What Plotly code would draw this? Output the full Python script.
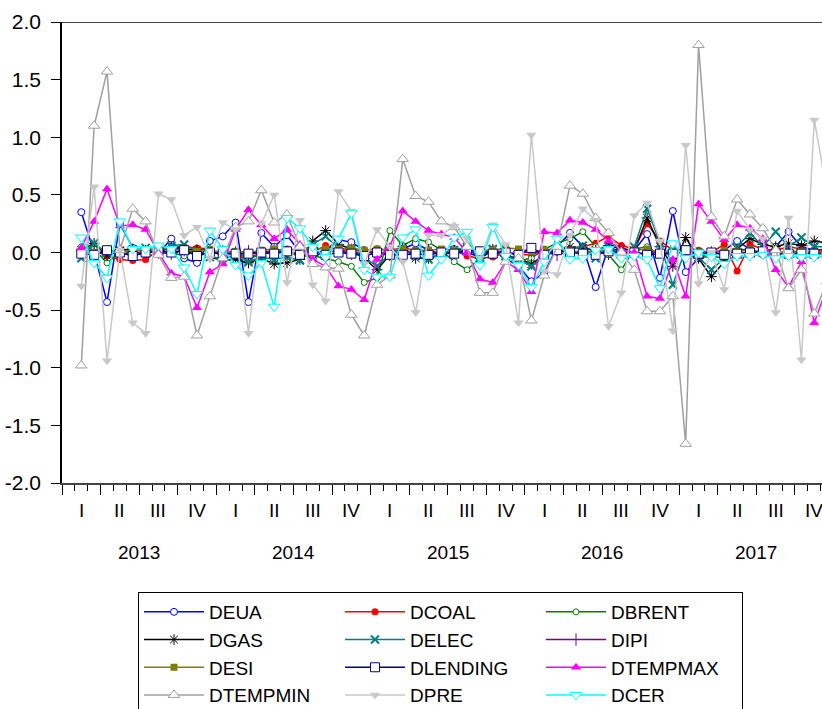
import plotly.graph_objects as go

# month positions: Feb 2013 .. Dec 2017 (month index from Jan 2013 = 0), plotted at month centres
month_index = list(range(1, 60))

DEUA = [0.35, 0.00, -0.43, 0.25, 0.04, 0.02, -0.01, 0.12, -0.05, -0.09,
        0.10, 0.14, 0.26, -0.43, 0.17, 0.05, 0.15, 0.00, -0.05, 0.02,
        0.11, 0.09, 0.02, -0.02, 0.00, 0.03, 0.08, 0.02, -0.02, 0.03,
        0.00, -0.04, 0.02, -0.05, -0.12, -0.25, -0.18, 0.05, 0.17, 0.05,
        -0.30, 0.05, 0.00, 0.02, 0.16, -0.22, 0.36, -0.17, -0.05, 0.00,
        0.02, 0.10, 0.03, -0.02, 0.05, 0.18, 0.05, 0.02, 0.03]
DCOAL = [0.00, 0.02, -0.03, -0.06, -0.07, -0.06, 0.02, 0.05, 0.05, 0.04,
         0.03, -0.04, -0.03, -0.05, 0.00, 0.02, 0.03, 0.02, 0.00, 0.06,
         0.02, 0.01, 0.02, 0.03, 0.02, 0.04, 0.02, 0.01, -0.02, 0.02,
         -0.03, -0.05, -0.04, 0.00, -0.02, -0.02, 0.02, 0.04, 0.03, 0.05,
         0.08, 0.14, 0.06, 0.03, 0.25, 0.10, 0.02, 0.03, 0.02, 0.00,
         0.07, -0.16, 0.07, 0.03, 0.02, 0.05, 0.03, 0.02, 0.02]
DBRENT = [0.05, 0.03, -0.09, 0.00, -0.02, 0.00, 0.02, 0.00, -0.03, 0.02,
          0.03, -0.02, 0.00, -0.05, -0.02, 0.02, 0.00, -0.03, -0.03, -0.05,
          -0.08, -0.12, -0.26, -0.22, 0.19, 0.06, 0.12, 0.09, 0.02, -0.08,
          -0.15, -0.05, 0.02, -0.03, -0.07, -0.05, 0.03, 0.08, 0.12, 0.18,
          0.05, -0.02, -0.15, 0.03, 0.05, -0.02, 0.03, -0.02, -0.05, -0.03,
          -0.05, 0.02, 0.03, -0.02, -0.03, 0.02, 0.00, 0.01, 0.00]
DGAS = [0.02, 0.08, -0.03, 0.02, 0.03, 0.02, 0.00, 0.05, 0.03, 0.02,
        -0.04, -0.07, -0.06, -0.09, -0.05, -0.10, -0.09, -0.06, 0.10, 0.19,
        0.07, 0.03, -0.05, -0.15, -0.02, 0.05, -0.05, -0.05, -0.02, 0.02,
        0.04, -0.05, 0.02, -0.03, -0.05, -0.10, -0.02, 0.02, 0.05, 0.04,
        0.02, 0.06, 0.03, 0.02, 0.30, 0.05, -0.12, 0.13, -0.05, -0.21,
        -0.08, 0.03, 0.12, 0.07, 0.05, 0.08, 0.06, 0.10, 0.08]
DELEC = [-0.05, 0.08, 0.00, 0.01, 0.02, 0.04, 0.02, 0.06, 0.07, 0.01,
         -0.04, -0.05, -0.03, -0.08, -0.04, -0.06, -0.04, -0.07, 0.07, 0.14,
         0.04, 0.02, -0.04, -0.12, -0.01, 0.03, -0.03, -0.06, 0.00, 0.02,
         0.05, -0.04, 0.03, -0.03, -0.06, -0.12, -0.03, 0.03, 0.02, 0.06,
         -0.05, 0.05, -0.02, 0.05, 0.38, 0.08, -0.28, 0.03, -0.04, -0.15,
         -0.05, 0.05, 0.17, 0.05, 0.18, 0.05, 0.13, 0.05, 0.05]
DIPI = [0.01, -0.01, 0.00, 0.02, -0.01, 0.01, 0.00, -0.01, 0.02, 0.00,
        -0.02, 0.01, 0.00, 0.01, -0.01, 0.02, 0.00, -0.01, 0.01, 0.00,
        0.02, -0.01, 0.00, 0.01, -0.02, 0.01, 0.00, 0.02, -0.01, 0.00,
        0.01, -0.01, 0.02, 0.00, -0.01, 0.01, 0.00, -0.02, 0.01, 0.00,
        0.01, -0.01, 0.02, 0.00, -0.01, 0.01, 0.00, 0.01, -0.02, 0.00,
        0.01, -0.01, 0.00, 0.02, -0.01, 0.00, 0.01, -0.01, 0.00]
DESI = [0.02, 0.00, 0.01, 0.02, 0.01, 0.02, 0.03, 0.03, 0.02, 0.01,
        0.02, 0.00, 0.01, 0.00, 0.02, 0.03, 0.01, 0.04, 0.04, 0.03,
        0.03, 0.04, 0.02, 0.03, 0.02, 0.03, 0.02, 0.02, 0.03, 0.02,
        0.00, 0.02, 0.02, 0.04, 0.03, 0.01, 0.02, 0.01, 0.02, 0.00,
        0.01, 0.02, -0.02, 0.02, 0.03, 0.00, 0.02, -0.01, 0.01, 0.00,
        0.02, 0.01, 0.02, 0.00, 0.01, 0.00, 0.01, 0.00, 0.01]
DLENDING = [-0.01, -0.02, 0.02, 0.00, -0.03, 0.00, 0.01, 0.00, 0.02, -0.03,
            0.00, -0.01, -0.01, -0.01, 0.00, -0.01, 0.01, -0.02, 0.01, -0.02,
            0.00, -0.01, -0.03, 0.00, -0.02, -0.02, -0.01, -0.02, 0.00, -0.01,
            0.02, 0.01, -0.01, 0.00, -0.02, 0.04, -0.02, 0.02, 0.00, -0.01,
            -0.02, 0.01, -0.01, 0.00, -0.02, -0.01, -0.01, 0.02, -0.01, 0.00,
            -0.02, -0.01, 0.00, 0.01, -0.01, -0.01, -0.01, -0.01, -0.01]
DTEMPMAX = [0.04, 0.27, 0.55, 0.23, 0.24, 0.20, 0.00, -0.18, -0.21, -0.48,
            -0.17, -0.10, 0.20, 0.37, 0.24, 0.12, 0.20, 0.07, -0.06, -0.12,
            -0.29, -0.32, -0.41, -0.06, 0.05, 0.36, 0.27, 0.19, 0.16, 0.13,
            0.00, -0.23, -0.26, -0.08, -0.15, -0.34, 0.18, 0.17, 0.28, 0.26,
            0.20, 0.10, 0.02, 0.00, -0.38, -0.40, -0.06, -0.38, 0.42, 0.27,
            0.11, 0.24, 0.21, 0.12, -0.15, -0.30, -0.08, -0.61, -0.30]
DTEMPMIN = [-0.98, 1.10, 1.57, 0.02, 0.38, 0.27, -0.02, -0.22, -0.21, -0.72,
            -0.38, -0.05, 0.22, 0.27, 0.54, 0.26, 0.33, 0.05, -0.10, -0.13,
            -0.14, -0.54, -0.72, -0.28, -0.20, 0.81, 0.49, 0.44, 0.27, 0.22,
            0.05, -0.35, -0.35, -0.08, -0.05, -0.59, -0.20, 0.05, 0.58, 0.51,
            0.30, 0.17, 0.00, -0.15, -0.51, -0.51, -0.38, -1.66, 1.80, 0.31,
            0.14, 0.46, 0.33, 0.21, 0.02, -0.31, -0.15, -0.53, -0.25]
DPRE = [-0.29, 0.57, -0.94, 0.02, -0.61, -0.70, 0.51, 0.46, 0.15, 0.22,
        -0.05, 0.26, 0.20, -0.70, 0.25, 0.50, -0.26, 0.28, -0.28, -0.42,
        0.53, 0.36, -0.10, 0.20, 0.05, -0.08, -0.52, 0.15, 0.15, 0.23,
        0.12, -0.05, 0.24, 0.07, -0.61, 1.02, -0.16, -0.19, 0.15, 0.38,
        0.28, -0.64, -0.35, 0.32, 0.43, 0.10, -0.68, 0.93, -0.27, 0.00,
        -0.32, 0.36, 0.20, 0.12, -0.52, 0.30, -0.93, 1.15, 0.52]
DCER = [0.13, -0.09, -0.22, 0.27, 0.03, 0.03, 0.06, 0.03, -0.13, -0.36,
        0.19, 0.03, -0.11, -0.20, -0.09, -0.47, 0.30, 0.21, 0.05, -0.04,
        0.12, 0.34, -0.15, -0.21, -0.21, 0.13, 0.20, -0.20, -0.06, 0.13,
        0.18, -0.11, 0.22, -0.03, -0.11, -0.30, -0.08, 0.12, -0.06, -0.05,
        0.02, 0.03, -0.05, -0.03, -0.06, -0.31, 0.08, -0.05, 0.00, -0.04,
        -0.10, -0.03, -0.03, -0.02, -0.05, -0.03, -0.04, -0.04, -0.03]

years = ["2013", "2014", "2015", "2016", "2017"]
quarters = ["I", "II", "III", "IV"]
y_ticks = [-2.0, -1.5, -1.0, -0.5, 0.0, 0.5, 1.0, 1.5, 2.0]

x = [m + 0.5 for m in month_index]

series = [
    ("DEUA", DEUA, "#0000FF", dict(symbol="circle", size=7, color="white", line=dict(color="#0000FF", width=1))),
    ("DCOAL", DCOAL, "#FF0000", dict(symbol="circle", size=7, color="#FF0000", line=dict(width=0))),
    ("DBRENT", DBRENT, "#008000", dict(symbol="circle", size=6, color="white", line=dict(color="#008000", width=1))),
    ("DGAS", DGAS, "#000000", dict(symbol="asterisk-open", size=9, color="#000000", line=dict(color="#000000", width=1))),
    ("DELEC", DELEC, "#008080", dict(symbol="x-thin-open", size=8, color="#008080", line=dict(color="#008080", width=2))),
    ("DIPI", DIPI, "#800080", dict(symbol="line-ns-open", size=9, color="#800080", line=dict(color="#800080", width=1))),
    ("DESI", DESI, "#808000", dict(symbol="square", size=7, color="#808000", line=dict(width=0))),
    ("DLENDING", DLENDING, "#000080", dict(symbol="square", size=9, color="white", line=dict(color="#000080", width=1))),
    ("DTEMPMAX", DTEMPMAX, "#FF00FF", dict(symbol="triangle-up", size=9, color="#FF00FF", line=dict(width=0))),
    ("DTEMPMIN", DTEMPMIN, "#A0A0A0", dict(symbol="triangle-up", size=10, color="white", line=dict(color="#A0A0A0", width=1))),
    ("DPRE", DPRE, "#C8C8C8", dict(symbol="triangle-down", size=9, color="#C8C8C8", line=dict(width=0))),
    ("DCER", DCER, "#00FFFF", dict(symbol="triangle-down", size=10, color="white", line=dict(color="#00FFFF", width=1))),
]

fig = go.Figure()
for name, vals, col, mk in series:
    fig.add_trace(go.Scatter(x=x, y=vals, name=name, mode="lines+markers",
                             line=dict(color=col, width=1.5), marker=mk))

FONT = "Liberation Sans, Arial, sans-serif"
annotations = []
for yi, yr in enumerate(years):
    for qi, q in enumerate(quarters):
        annotations.append(dict(x=yi * 12 + qi * 3 + 1.5, y=0, xref="x", yref="paper",
                                text=q, showarrow=False, yanchor="middle", yshift=-27,
                                font=dict(size=19, color="black", family=FONT)))
    annotations.append(dict(x=yi * 12 + 6, y=0, xref="x", yref="paper",
                            text=yr, showarrow=False, yanchor="middle", yshift=-69,
                            font=dict(size=19, color="black", family=FONT)))

fig.update_layout(
    width=822, height=709,
    margin=dict(l=62, r=0, t=22, b=226, autoexpand=False),
    paper_bgcolor="white", plot_bgcolor="white",
    font=dict(family=FONT, size=18, color="black"),
    showlegend=True,
    legend=dict(orientation="h", x=(138 - 62) / 760, xref="paper",
                y=(709 - 592) / 709, yref="container",
                xanchor="left", yanchor="top", bordercolor="black", borderwidth=1,
                bgcolor="white", font=dict(size=19, family=FONT, color="black"),
                itemwidth=60, entrywidth=126, entrywidthmode="pixels",
                traceorder="normal"),
    annotations=annotations,
    shapes=[dict(type="line", xref="paper", yref="y", x0=0, x1=1, y0=2, y1=2,
                 line=dict(color="black", width=1.5))],
)
fig.update_xaxes(range=[0, 59.1], showgrid=False, zeroline=False, showline=True,
                 automargin=False,
                 linecolor="#444444", linewidth=2, ticks="outside", ticklen=10,
                 tickcolor="black", tickmode="array",
                 tickvals=[q * 3 for q in range(20)], showticklabels=False,
                 minor=dict(tickmode="linear", tick0=0, dtick=1, ticks="outside",
                            ticklen=6, tickcolor="black", showgrid=False))
fig.update_yaxes(range=[-2, 2], showgrid=False, zeroline=False, showline=True,
                 automargin=False,
                 linecolor="black", linewidth=1.5, ticks="outside", ticklen=9,
                 tickcolor="black", tickmode="array", tickvals=y_ticks,
                 ticktext=[f"{v:.1f}" for v in y_ticks], ticklabelstandoff=6,
                 tickfont=dict(size=21, family=FONT, color="black"))

fig.write_html("out.html", config={"displayModeBar": False},
               post_script="document.body.style.margin='0';document.body.style.padding='0';document.body.style.overflow='hidden';")
